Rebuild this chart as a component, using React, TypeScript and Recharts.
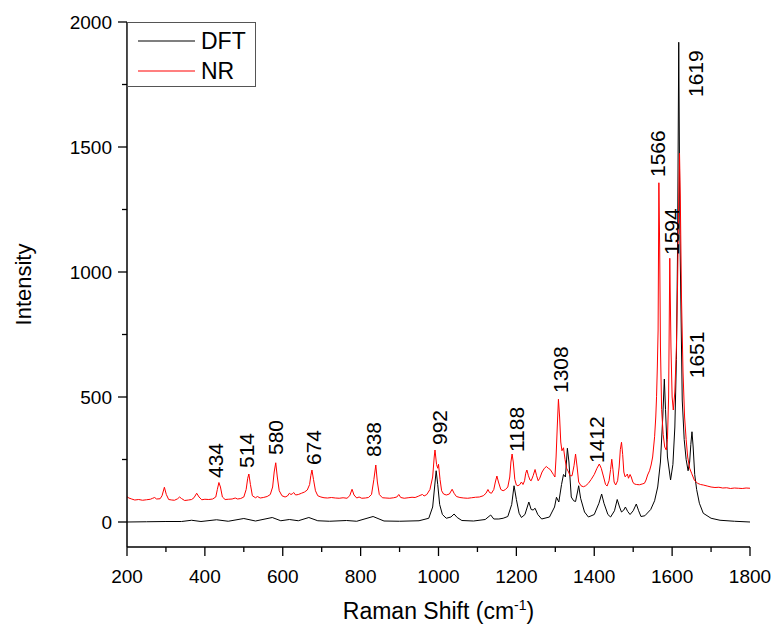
import { ComposedChart, Line, XAxis, YAxis, Legend, ReferenceDot } from 'recharts';

const FONT = '"Liberation Sans", Arial, Helvetica, sans-serif';

// DFT spectrum: Raman shift (cm-1) and intensity
const dftShift = [
  200, 250, 300, 340, 366, 390, 430, 460, 500, 530,
  573, 595, 617, 640, 667, 690, 720, 764, 790, 832,
  860, 900, 950, 975, 985, 990, 994, 998, 1003, 1010,
  1020, 1032, 1040, 1048, 1060, 1090, 1120, 1134, 1142, 1155,
  1166, 1178, 1188, 1194, 1200, 1207, 1213, 1222, 1232, 1238,
  1243, 1248, 1255, 1265, 1285, 1298, 1303, 1309, 1316, 1321,
  1326, 1331, 1335, 1341, 1347, 1352, 1357, 1360, 1365, 1375,
  1385, 1400, 1412, 1419, 1425, 1435, 1442, 1452, 1459, 1465,
  1470, 1476, 1480, 1486, 1492, 1500, 1508, 1514, 1520, 1530,
  1545, 1555, 1563, 1570, 1576, 1580, 1583, 1588, 1596, 1602,
  1607, 1611, 1614, 1617, 1620, 1626, 1631, 1636, 1641, 1645,
  1648, 1651, 1654, 1658, 1663, 1670, 1680, 1700, 1723, 1760,
  1800,
];
const dftIntensity = [
  0, 1, 2, 2, 7, 2, 9, 3, 14, 4,
  18, 5, 10, 5, 18, 5, 3, 6, 3, 22,
  4, 3, 5, 15, 60, 140, 205, 150, 70, 30,
  15, 20, 32, 18, 6, 4, 10, 28, 12, 12,
  15, 22, 70, 145, 90, 35, 18, 30, 80, 50,
  48, 55, 30, 12, 20, 60, 99, 80, 150, 190,
  180, 295, 240, 100, 85, 82, 120, 145, 95, 40,
  20, 30, 75, 112, 75, 30, 20, 45, 90, 60,
  40, 48, 60, 42, 30, 45, 72, 45, 22, 25,
  50, 85, 140, 240, 420, 572, 450, 260, 168, 230,
  380, 650, 1100, 1919, 1150, 488, 330, 250, 205, 240,
  310, 361, 300, 190, 130, 75, 35, 15, 7, 3,
  0,
];

// NR spectrum
const nrShift = [
  200, 205, 212, 220, 230, 240, 250, 260, 266, 271,
  276, 285, 290, 296, 301, 307, 315, 322, 330, 335,
  340, 348, 358, 366, 372, 379, 385, 392, 400, 410,
  420, 428, 432, 436, 440, 445, 452, 460, 470, 478,
  484, 492, 500, 506, 510, 513, 517, 522, 530, 535,
  542, 550, 560, 568, 574, 578, 582, 586, 591, 598,
  606, 612, 617, 621, 625, 628, 633, 640, 648, 656,
  663, 669, 672, 675, 679, 684, 690, 698, 706, 715,
  725, 735, 745, 755, 765, 772, 778, 783, 790, 796,
  803, 812, 820, 828, 834, 839, 843, 848, 856, 865,
  875, 885, 893, 898, 903, 912, 922, 932, 940, 948,
  955, 959, 963, 970, 978, 985, 989, 991, 995, 998,
  1000, 1004, 1008, 1013, 1020, 1028, 1035, 1040, 1046, 1055,
  1065, 1075, 1085, 1095, 1105, 1115, 1122, 1127, 1131, 1136,
  1142, 1146, 1150, 1154, 1160, 1166, 1172, 1178, 1183, 1186,
  1189, 1192, 1196, 1200, 1204, 1209, 1213, 1217, 1221, 1224,
  1227, 1231, 1235, 1238, 1243, 1248, 1252, 1256, 1260, 1266,
  1272, 1277, 1282, 1287, 1291, 1295, 1299, 1302, 1305, 1308,
  1311, 1314, 1317, 1321, 1325, 1329, 1334, 1338, 1343, 1348,
  1352, 1356, 1360, 1366, 1372, 1378, 1385, 1392, 1400, 1407,
  1413, 1418, 1424, 1429, 1433, 1438, 1442, 1445, 1448, 1451,
  1455, 1460, 1464, 1467, 1470, 1473, 1476, 1479, 1482, 1485,
  1488, 1492, 1495, 1499, 1503, 1509, 1516, 1523, 1529, 1533,
  1537, 1542, 1546, 1550, 1555, 1558, 1560, 1562, 1564, 1566,
  1568, 1570, 1573, 1577, 1581, 1585, 1588, 1591, 1594, 1597,
  1600, 1603, 1607, 1611, 1614, 1617, 1619, 1621, 1624, 1628,
  1632, 1636, 1640, 1645, 1650, 1657, 1665, 1673, 1680, 1690,
  1700, 1710, 1720, 1730, 1740, 1750, 1760, 1770, 1780, 1790,
  1800,
];
const nrIntensity = [
  101, 96, 92, 88, 90, 87, 89, 91, 95, 98,
  92, 93, 105, 139, 110, 90, 88, 87, 93, 100,
  94, 86, 88, 90, 97, 115, 100, 89, 91, 90,
  92, 100, 130, 158, 140, 100, 90, 91, 92, 96,
  92, 94, 100, 130, 175, 192, 150, 105, 97, 102,
  96, 98, 102, 110, 140, 200, 237, 180, 125, 105,
  100, 104, 115, 110, 113, 118, 108, 110, 115, 120,
  128, 150, 185, 208, 170, 125, 105, 100, 97, 96,
  98, 96, 95, 97, 95, 105, 131, 108, 96, 100,
  95, 96, 98, 110, 170, 228, 160, 110, 97, 96,
  95, 97, 100, 110, 98, 95, 97, 99, 98, 103,
  108, 110, 104, 110, 130, 180, 260, 288, 230, 215,
  231, 170, 125, 112, 108, 112, 131, 115, 102, 98,
  96, 95, 97, 99, 100, 105, 115, 130, 118, 115,
  130, 160, 184, 160, 130, 125, 130, 140, 180, 240,
  272, 240, 170, 148, 145, 150, 160, 150, 165, 195,
  208, 185, 168, 165, 185, 210, 185, 165, 175, 200,
  215, 222, 215, 210, 200, 190, 180, 260, 380, 491,
  420, 320, 285, 297, 250, 215, 200, 185, 185, 225,
  272, 220, 160, 145, 141, 145, 155, 170, 190, 215,
  232, 215, 180, 150, 144, 165, 210, 251, 210, 160,
  148, 165, 220, 290, 319, 270, 200, 181, 185, 192,
  175, 190, 180, 160, 152, 150, 149, 152, 155, 168,
  188, 205, 228, 260, 341, 420, 501, 620, 768, 1357,
  1100, 700, 450, 350, 300, 288, 330, 500, 1055, 700,
  500, 448, 520, 700, 950, 1300, 1475, 1300, 900, 600,
  420, 330, 260, 215, 195, 168, 155, 150, 148, 144,
  140, 138, 139, 136, 137, 134, 136, 135, 134, 136,
  135,
];

const xTicks = [200, 300, 400, 500, 600, 700, 800, 900, 1000, 1100, 1200, 1300, 1400, 1500, 1600, 1700, 1800];
const xMajor = [200, 400, 600, 800, 1000, 1200, 1400, 1600, 1800];
const yTicks = [0, 250, 500, 750, 1000, 1250, 1500, 1750, 2000];
const yMajor = [0, 500, 1000, 1500, 2000];

// peak annotations: text, and where the rotated text starts (data coords)
const peakNames = ['434', '514', '580', '674', '838', '992', '1188', '1308', '1412', '1566', '1594', '1619', '1651'];
const peakShift = [428, 508, 580, 678, 832, 1002, 1200, 1313, 1405, 1563, 1597, 1660, 1662];
const peakHeight = [176, 216, 268, 228, 260, 308, 280, 516, 236, 1380, 1068, 1700, 575];

const dftData = dftShift.map((x, i) => ({ x, y: dftIntensity[i] }));
const nrData = nrShift.map((x, i) => ({ x, y: nrIntensity[i] }));

const XTick = ({ x, y, payload }: any) => {
  const major = xMajor.includes(payload.value);
  return (
    <g>
      <line x1={x} y1={y} x2={x} y2={y + (major ? 9 : 5)} stroke="#000" strokeWidth={1.3} />
      {major && (
        <text x={x} y={y + 36} textAnchor="middle" fontSize={19} fontFamily={FONT} fill="#000">
          {payload.value}
        </text>
      )}
    </g>
  );
};

const YTick = ({ x, y, payload }: any) => {
  const major = yMajor.includes(payload.value);
  return (
    <g>
      <line x1={x - (major ? 9 : 5)} y1={y} x2={x} y2={y} stroke="#000" strokeWidth={1.3} />
      {major && (
        <text x={x - 15} y={y} dy="0.36em" textAnchor="end" fontSize={19} fontFamily={FONT} fill="#000">
          {payload.value}
        </text>
      )}
    </g>
  );
};

const XTitle = ({ viewBox }: any) => (
  <text x={viewBox.x + viewBox.width / 2} y={viewBox.y + 72} textAnchor="middle" fontSize={23} fontFamily={FONT} fill="#000">
    Raman Shift (cm<tspan dy={-9} fontSize={14}>-1</tspan><tspan dy={9}>)</tspan>
  </text>
);

const YTitle = ({ viewBox }: any) => {
  const cx = viewBox.x + viewBox.width - 104;
  const cy = viewBox.y + viewBox.height / 2;
  return (
    <text x={cx} y={cy} dy="0.36em" textAnchor="middle" transform={`rotate(-90 ${cx} ${cy})`} fontSize={22} fontFamily={FONT} fill="#000">
      Intensity
    </text>
  );
};

const PeakLabel = ({ viewBox, text }: any) => {
  const { x, y } = viewBox;
  return (
    <text x={x} y={y} dy="0.36em" transform={`rotate(-90 ${x} ${y})`} fontSize={21} fontFamily={FONT} fill="#000">
      {text}
    </text>
  );
};

const LegendBox = ({ payload }: any) => (
  <svg width={130} height={66} style={{ display: 'block' }}>
    <rect x={0.5} y={0.5} width={128} height={64} fill="#fff" stroke="#555" />
    {(payload || []).map((entry: any, i: number) => (
      <g key={entry.value}>
        <line x1={11} x2={68} y1={19 + i * 30} y2={19 + i * 30} stroke={entry.color} strokeWidth={1.2} />
        <text x={74} y={19 + i * 30} dy="0.36em" fontSize={23} fontFamily={FONT} fill="#000">
          {entry.value}
        </text>
      </g>
    ))}
  </svg>
);

export default function App() {
  return (
    <div style={{ position: 'absolute', left: 0, top: 0, width: 776, height: 628, background: '#fff' }}>
      <ComposedChart width={776} height={628} margin={{ top: 22, right: 26, bottom: 51, left: 67 }}>
        <XAxis
          dataKey="x"
          type="number"
          domain={[200, 1800]}
          ticks={xTicks}
          interval={0}
          allowDataOverflow
          tick={<XTick />}
          tickLine={false}
          tickSize={0}
          tickMargin={0}
          height={30}
          axisLine={{ stroke: '#000', strokeWidth: 1.5 }}
          label={<XTitle />}
        />
        <XAxis xAxisId="top" orientation="top" type="number" domain={[200, 1800]} height={0} tick={false} tickLine={false} axisLine={{ stroke: '#666', strokeWidth: 1 }} />
        <YAxis
          type="number"
          domain={[-100, 2000]}
          ticks={yTicks}
          interval={0}
          allowDataOverflow
          tick={<YTick />}
          tickLine={false}
          tickSize={0}
          tickMargin={0}
          width={60}
          axisLine={{ stroke: '#000', strokeWidth: 1.5 }}
          label={<YTitle />}
        />
        <YAxis yAxisId="right" orientation="right" type="number" domain={[-100, 2000]} width={0} tick={false} tickLine={false} axisLine={{ stroke: '#666', strokeWidth: 1 }} />
        <Legend
          layout="vertical"
          align="center"
          verticalAlign="middle"
          content={<LegendBox />}
          wrapperStyle={{ left: 127, top: 22, width: 130, height: 66 }}
        />
        <Line data={dftData} dataKey="y" name="DFT" type="linear" stroke="#000" strokeWidth={1} dot={false} activeDot={false} isAnimationActive={false} />
        <Line data={nrData} dataKey="y" name="NR" type="linear" stroke="#ff0000" strokeWidth={1} dot={false} activeDot={false} isAnimationActive={false} />
        {peakNames.map((name, i) => (
          <ReferenceDot
            key={name}
            x={peakShift[i]}
            y={peakHeight[i]}
            r={0}
            fill="none"
            stroke="none"
            label={<PeakLabel text={name} />}
          />
        ))}
      </ComposedChart>
    </div>
  );
}
